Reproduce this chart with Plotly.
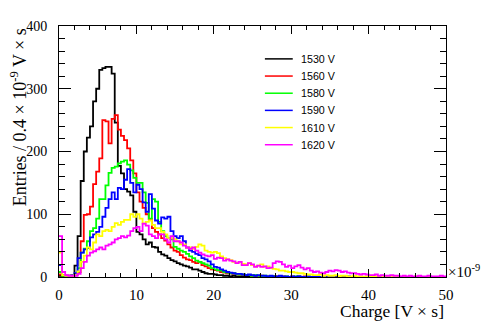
import plotly.graph_objects as go

# charge histogram, 125 bins of 0.4 (x10^-9 V*s) from 0 to 50
BIN_WIDTH = 0.4
N_BINS = 125

labels = ["1530 V", "1560 V", "1580 V", "1590 V", "1610 V", "1620 V"]
colors = ["#000000", "#ff0000", "#00ff00", "#0000ff", "#ffff00", "#ff00ff"]

h1530 = [
    2, 0, 1, 1, 2, 18, 65, 153, 200, 222, 240, 280, 300, 330, 333, 335, 335, 324, 246, 177, 165, 140, 136, 130, 104,
    72, 68, 60, 52, 55, 48, 47, 40, 36, 34, 30, 27, 25, 22, 20, 18, 17, 15, 12, 12, 10, 8, 6, 5, 5,
    4, 3, 3, 2, 2, 1, 2, 1, 1, 0, 1, 0, 1, 0, 0, 1, 0, 0, 0, 1, 0, 0, 0, 0, 0,
    0, 0, 1, 0, 0, 0, 0, 0, 0, 0, 0, 0, 0, 0, 0, 0, 0, 0, 0, 0, 0, 0, 0, 0, 0,
    0, 0, 0, 0, 0, 0, 0, 0, 0, 0, 0, 0, 0, 0, 0, 0, 0, 0, 0, 0, 0, 0, 0, 0, 0,
]
h1560 = [
    4, 2, 1, 1, 2, 3, 8, 57, 99, 100, 112, 148, 168, 189, 250, 248, 213, 252, 258, 235, 225, 218, 205, 186, 165,
    135, 120, 110, 100, 92, 78, 72, 68, 62, 58, 52, 47, 42, 40, 35, 31, 28, 27, 24, 22, 24, 19, 17, 14, 12,
    11, 10, 8, 7, 6, 6, 5, 5, 4, 3, 3, 3, 2, 2, 1, 2, 1, 1, 1, 0, 1, 0, 1, 0, 0,
    1, 0, 0, 0, 1, 0, 0, 0, 1, 0, 0, 0, 0, 0, 0, 0, 1, 0, 0, 0, 0, 0, 0, 0, 0,
    0, 0, 0, 0, 0, 0, 0, 0, 0, 0, 0, 0, 0, 0, 0, 0, 0, 0, 0, 0, 0, 0, 0, 0, 0,
]
h1580 = [
    8, 2, 2, 2, 3, 5, 14, 39, 45, 57, 73, 78, 93, 124, 124, 146, 166, 174, 176, 181, 184, 186, 179, 170, 158,
    150, 150, 135, 118, 93, 124, 120, 88, 73, 65, 62, 60, 48, 45, 42, 40, 37, 33, 30, 26, 24, 22, 20, 18, 14,
    12, 11, 10, 8, 7, 6, 6, 5, 4, 4, 3, 3, 2, 3, 2, 1, 2, 1, 1, 1, 0, 1, 0, 1, 0,
    0, 1, 0, 0, 0, 1, 0, 0, 0, 0, 0, 1, 0, 0, 0, 0, 0, 0, 0, 0, 0, 0, 0, 0, 0,
    0, 0, 0, 0, 0, 0, 0, 0, 0, 0, 0, 0, 0, 0, 0, 0, 0, 0, 0, 0, 0, 0, 0, 0, 0,
]
h1590 = [
    19, 3, 2, 2, 3, 6, 30, 39, 44, 46, 63, 68, 72, 80, 96, 110, 124, 135, 124, 142, 140, 155, 172, 150, 135,
    147, 140, 119, 104, 132, 109, 90, 85, 95, 93, 96, 73, 65, 62, 65, 57, 47, 42, 40, 37, 35, 30, 28, 25, 20,
    16, 15, 12, 10, 8, 7, 6, 5, 5, 4, 3, 4, 3, 2, 3, 2, 2, 1, 2, 1, 1, 2, 1, 1, 0,
    1, 0, 1, 0, 0, 1, 0, 0, 1, 0, 0, 0, 1, 0, 0, 0, 0, 0, 1, 0, 0, 0, 0, 0, 0,
    0, 0, 0, 1, 0, 0, 0, 0, 0, 0, 0, 0, 0, 0, 0, 0, 0, 0, 0, 0, 0, 0, 0, 0, 0,
]
h1610 = [
    39, 3, 2, 2, 2, 3, 9, 24, 34, 47, 44, 55, 68, 65, 73, 75, 73, 80, 86, 83, 88, 91, 91, 100, 96,
    100, 93, 85, 88, 90, 83, 78, 78, 72, 68, 62, 62, 60, 57, 52, 52, 47, 47, 45, 48, 52, 50, 42, 40, 39,
    40, 38, 33, 30, 28, 27, 24, 22, 24, 21, 20, 22, 19, 17, 18, 20, 16, 17, 14, 13, 12, 10, 10, 9, 8,
    8, 7, 6, 6, 5, 4, 4, 3, 3, 4, 2, 3, 2, 2, 3, 1, 2, 2, 1, 1, 2, 1, 1, 0, 1,
    1, 0, 1, 0, 0, 1, 0, 0, 0, 1, 0, 0, 0, 0, 0, 1, 0, 0, 0, 0, 0, 0, 0, 0, 0,
]
h1620 = [
    65, 8, 3, 2, 2, 2, 5, 14, 24, 34, 39, 41, 44, 47, 44, 50, 52, 55, 60, 62, 65, 63, 66, 73, 78,
    80, 73, 85, 82, 68, 65, 62, 68, 68, 60, 55, 65, 57, 57, 55, 50, 47, 45, 47, 42, 39, 36, 34, 33, 35,
    29, 31, 30, 26, 28, 26, 25, 22, 24, 19, 19, 22, 20, 16, 18, 16, 17, 14, 15, 22, 25, 24, 20, 16, 18,
    14, 17, 19, 15, 12, 14, 10, 8, 9, 7, 6, 8, 10, 9, 11, 10, 8, 9, 7, 6, 6, 5, 4, 5, 4,
    3, 3, 4, 2, 3, 2, 2, 3, 2, 2, 1, 2, 1, 2, 1, 1, 2, 1, 1, 2, 1, 1, 1, 2, 1,
]
hists = [h1530, h1560, h1580, h1590, h1610, h1620]

edges = [i * BIN_WIDTH for i in range(N_BINS + 1)]

SERIF = "Liberation Serif, Times New Roman, serif"
SANS = "Liberation Sans, Arial, sans-serif"

fig = go.Figure()
for name, col, h in zip(labels, colors, hists):
    fig.add_trace(go.Scatter(
        x=edges, y=h + [h[-1]], name=name, mode="lines", showlegend=False,
        line=dict(color=col, width=1.8, shape="hv"),
    ))

# ROOT-style legend box (no border), drawn in paper coords
leg_x0, leg_x1, leg_tx = 0.532, 0.604, 0.620
leg_y0, leg_dy = 0.869, 0.0684
for i, (name, col) in enumerate(zip(labels, colors)):
    yy = leg_y0 - i * leg_dy
    fig.add_shape(type="line", xref="paper", yref="paper", x0=leg_x0, x1=leg_x1, y0=yy, y1=yy,
                  line=dict(color=col, width=1.5))
    fig.add_annotation(text=name, xref="paper", yref="paper", x=leg_tx, y=yy,
                       xanchor="left", yanchor="middle", showarrow=False,
                       font=dict(family=SANS, size=10.7, color="black"))

axis_common = dict(
    showline=True, linecolor="black", linewidth=1, mirror="allticks",
    ticks="inside", tickcolor="black", tickwidth=1,
    showgrid=False, zeroline=False,
)
fig.update_xaxes(range=[0, 50], dtick=10, ticklen=7.7, ticklabelstandoff=4,
                 tickfont=dict(family=SERIF, size=15, color="black"),
                 minor=dict(dtick=2, ticklen=3.9, ticks="inside", tickcolor="black"),
                 **axis_common)
fig.update_yaxes(range=[0, 400], dtick=100, ticklen=11.6, ticklabelstandoff=8,
                 tickfont=dict(family=SERIF, size=14, color="black"),
                 minor=dict(dtick=20, ticklen=5.8, ticks="inside", tickcolor="black"),
                 **axis_common)

fig.add_annotation(text="Charge [V \u00d7 s]", xref="paper", yref="paper", x=1, y=-0.137,
                   xanchor="right", yanchor="middle", showarrow=False,
                   font=dict(family=SERIF, size=17.5, color="black"))
fig.add_annotation(text="Entries / 0.4 \u00d7 10<sup>-9</sup> V \u00d7 s", xref="paper", yref="paper",
                   x=-0.105, y=1, xanchor="center", yanchor="top", textangle=-90, showarrow=False,
                   font=dict(family=SERIF, size=18, color="black"))
fig.add_annotation(text="\u00d710<sup>-9</sup>", xref="paper", yref="paper", x=1, y=0.025,
                   xanchor="left", yanchor="middle", showarrow=False,
                   font=dict(family=SERIF, size=15, color="black"))

# page body has an 8px margin, so the figure is 8px smaller than the window
fig.update_layout(
    width=483, height=324,
    margin=dict(l=51, r=45, t=11, b=55),
    paper_bgcolor="white", plot_bgcolor="white",
)

fig.write_html("out.html")
